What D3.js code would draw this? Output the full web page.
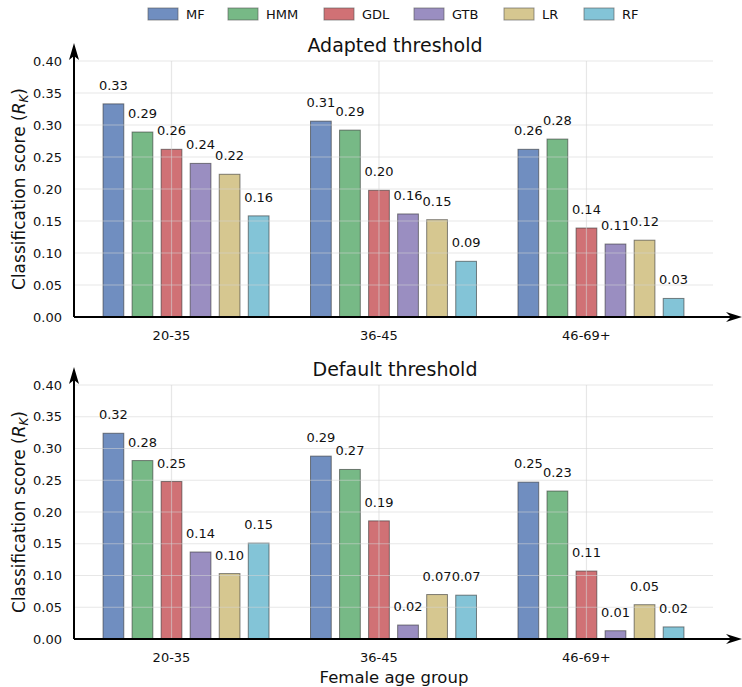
<!DOCTYPE html>
<html>
<head>
<meta charset="utf-8">
<script src="https://cdn.jsdelivr.net/npm/d3@7"></script>
<style>
  body { margin: 0; background: #fff; }
  svg { display: block; font-family: 'DejaVu Sans', sans-serif; }
</style>
</head>
<body>
<svg id="chart" width="742" height="687"></svg>
<script>
const groups = ['20-35', '36-45', '46-69+'];
const models = ['MF', 'HMM', 'GDL', 'GTB', 'LR', 'RF'];
const colors = ['#4C72B0', '#55A868', '#C44E52', '#8172B2', '#CCB974', '#64B5CD'];
const yTicks = [0, 0.05, 0.1, 0.15, 0.2, 0.25, 0.3, 0.35, 0.4];

// one row per model, one value per age group
const adaptedScores = [
  [0.333, 0.306, 0.262],
  [0.289, 0.292, 0.278],
  [0.262, 0.198, 0.139],
  [0.240, 0.161, 0.114],
  [0.223, 0.152, 0.120],
  [0.158, 0.087, 0.029],
];
const defaultScores = [
  [0.324, 0.288, 0.247],
  [0.281, 0.267, 0.233],
  [0.248, 0.186, 0.107],
  [0.137, 0.022, 0.013],
  [0.103, 0.070, 0.054],
  [0.151, 0.069, 0.019],
];

const svg = d3.select('svg');
const x = d3.scaleLinear().domain([-0.47, 2.61]).range([74, 713]);
const unit = x(1) - x(0);
const xBar = d3.scaleBand()
  .domain(models)
  .range([-0.35 * unit, 0.49 * unit])
  .paddingInner(0.286)
  .paddingOuter(0.143);

// legend
const legend = svg.append('g').attr('class', 'legend');
const legendX = [148, 228, 324, 414, 504, 584];
models.forEach((m, i) => {
  legend.append('rect')
    .attr('x', legendX[i])
    .attr('y', 8)
    .attr('width', 30)
    .attr('height', 12)
    .attr('fill', colors[i])
    .attr('fill-opacity', 0.8)
    .attr('stroke', '#555')
    .attr('stroke-opacity', 0.6);
  legend.append('text')
    .attr('x', legendX[i] + 38)
    .attr('y', 19)
    .attr('font-size', 13)
    .attr('fill', '#111')
    .text(m);
});

function drawPanel(scores, title, top, bottom, xLabel) {
  const y = d3.scaleLinear().domain([0, 0.4]).range([bottom, top]);
  const g = svg.append('g');

  g.append('text')
    .attr('x', 395)
    .attr('y', top - 9)
    .attr('text-anchor', 'middle')
    .attr('font-size', 19)
    .attr('fill', '#111')
    .text(title);

  // bars
  models.forEach((m, i) => {
    g.selectAll(null)
      .data(scores[i])
      .enter()
      .append('rect')
      .attr('x', (d, j) => x(j) + xBar(m))
      .attr('y', (d) => y(d))
      .attr('width', xBar.bandwidth())
      .attr('height', (d) => y(0) - y(d))
      .attr('fill', colors[i])
      .attr('fill-opacity', 0.8)
      .attr('stroke', '#333')
      .attr('stroke-opacity', 0.6)
      .attr('stroke-width', 1);
  });

  // grid on top of the bars
  g.selectAll(null)
    .data(yTicks)
    .enter()
    .append('line')
    .attr('x1', x(-0.47))
    .attr('x2', x(2.61))
    .attr('y1', (d) => y(d))
    .attr('y2', (d) => y(d))
    .attr('stroke', '#d4d4d4')
    .attr('stroke-opacity', 0.55)
    .attr('stroke-width', 1.2);
  g.selectAll(null)
    .data(groups)
    .enter()
    .append('line')
    .attr('x1', (d, j) => x(j))
    .attr('x2', (d, j) => x(j))
    .attr('y1', y(0.4))
    .attr('y2', y(0))
    .attr('stroke', '#d4d4d4')
    .attr('stroke-opacity', 0.55)
    .attr('stroke-width', 1.2);

  // value labels
  models.forEach((m, i) => {
    g.selectAll(null)
      .data(scores[i])
      .enter()
      .append('text')
      .attr('x', (d, j) => x(j) + xBar(m) + xBar.bandwidth() / 2)
      .attr('y', (d) => y(d) - 14)
      .attr('text-anchor', 'middle')
      .attr('font-size', 13)
      .attr('fill', '#111')
      .text((d) => d3.format('.2f')(d));
  });

  // y ticks
  g.selectAll(null)
    .data(yTicks)
    .enter()
    .append('text')
    .attr('x', 62)
    .attr('y', (d) => y(d))
    .attr('dy', '0.35em')
    .attr('text-anchor', 'end')
    .attr('font-size', 13)
    .attr('fill', '#111')
    .text((d) => d3.format('.2f')(d));

  // x ticks
  g.selectAll(null)
    .data(groups)
    .enter()
    .append('text')
    .attr('x', (d, j) => x(j))
    .attr('y', y(0) + 23)
    .attr('text-anchor', 'middle')
    .attr('font-size', 13)
    .attr('fill', '#111')
    .text((d) => d);

  // axes with arrow heads
  const ax = x(-0.47);
  const y0 = y(0);
  g.append('line')
    .attr('x1', ax).attr('x2', 734)
    .attr('y1', y0).attr('y2', y0)
    .attr('stroke', '#000').attr('stroke-width', 2);
  g.append('line')
    .attr('x1', ax).attr('x2', ax)
    .attr('y1', y0).attr('y2', top - 10)
    .attr('stroke', '#000').attr('stroke-width', 2);
  g.append('path')
    .attr('d', `M742,${y0} L726,${y0 - 5} L731,${y0} L726,${y0 + 5} Z`)
    .attr('fill', '#000');
  g.append('path')
    .attr('d', `M${ax},${top - 18} L${ax - 5},${top - 1} L${ax},${top - 5} L${ax + 5},${top - 1} Z`)
    .attr('fill', '#000');

  // y label
  const yl = g.append('text')
    .attr('transform', `translate(25, ${(top + bottom) / 2}) rotate(-90)`)
    .attr('text-anchor', 'middle')
    .attr('font-size', 17)
    .attr('fill', '#111');
  yl.append('tspan').text('Classification score (');
  yl.append('tspan').attr('font-style', 'italic').text('R');
  yl.append('tspan').attr('font-style', 'italic').attr('font-size', 12).attr('dy', 3).text('K');
  yl.append('tspan').attr('dy', -3).text(')');

  if (xLabel) {
    g.append('text')
      .attr('x', 394)
      .attr('y', 683)
      .attr('text-anchor', 'middle')
      .attr('font-size', 16.5)
      .attr('fill', '#111')
      .text(xLabel);
  }
}

drawPanel(adaptedScores, 'Adapted threshold', 61, 317, null);
drawPanel(defaultScores, 'Default threshold', 385, 639, 'Female age group');
</script>
</body>
</html>
